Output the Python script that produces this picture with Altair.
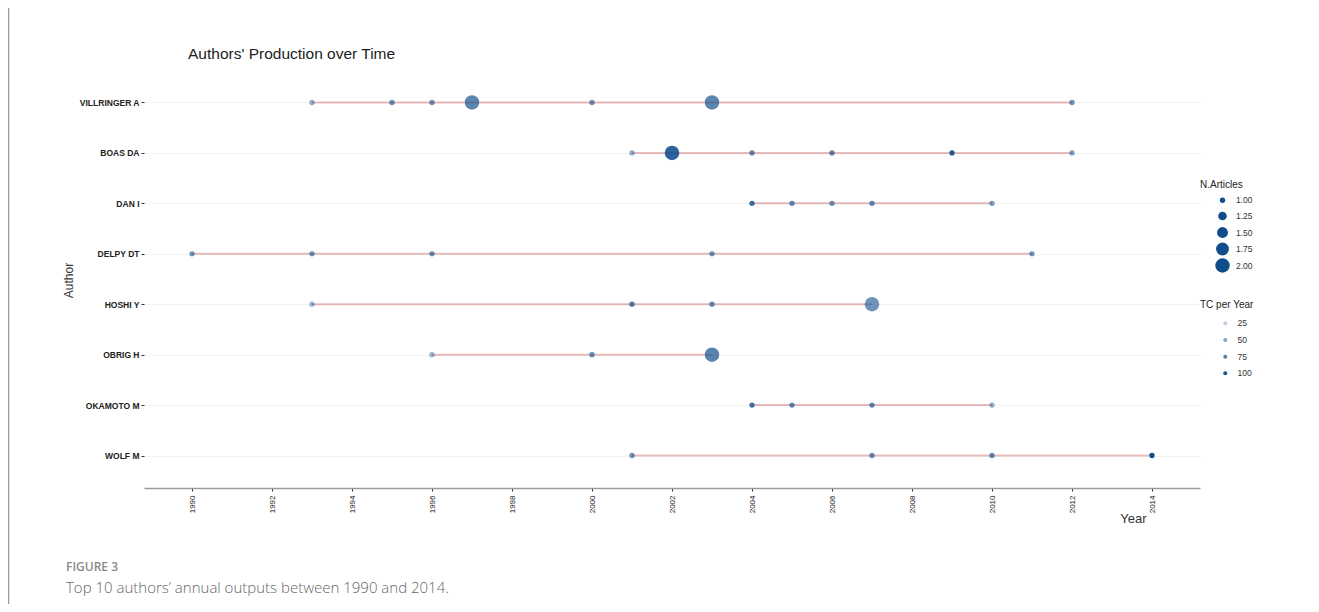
import altair as alt
import pandas as pd

authors = ["VILLRINGER A", "BOAS DA", "DAN I", "DELPY DT", "HOSHI Y", "OBRIG H", "OKAMOTO M", "WOLF M"]

villringer_years = [1993, 1995, 1996, 1997, 2000, 2003, 2012]
villringer_n = [1, 1, 1, 2, 1, 2, 1]
villringer_tc = [45, 65, 62, 70, 62, 70, 62]

boas_years = [2001, 2002, 2004, 2006, 2009, 2012]
boas_n = [1, 2, 1, 1, 1, 1]
boas_tc = [45, 92, 68, 70, 95, 55]

dan_years = [2004, 2005, 2006, 2007, 2010]
dan_n = [1, 1, 1, 1, 1]
dan_tc = [85, 68, 62, 68, 55]

delpy_years = [1990, 1993, 1996, 2003, 2011]
delpy_n = [1, 1, 1, 1, 1]
delpy_tc = [62, 62, 65, 62, 60]

hoshi_years = [1993, 2001, 2003, 2007]
hoshi_n = [1, 1, 1, 2]
hoshi_tc = [42, 75, 65, 60]

obrig_years = [1996, 2000, 2003]
obrig_n = [1, 1, 2]
obrig_tc = [42, 65, 72]

okamoto_years = [2004, 2005, 2007, 2010]
okamoto_n = [1, 1, 1, 1]
okamoto_tc = [82, 68, 68, 45]

wolf_years = [2001, 2007, 2010, 2014]
wolf_n = [1, 1, 1, 1]
wolf_tc = [62, 62, 65, 105]

year_ticks = list(range(1990, 2015, 2))
size_legend_values = [1.0, 1.25, 1.5, 1.75, 2.0]
tc_legend_values = [25, 50, 75, 100]

series = [
    ("VILLRINGER A", villringer_years, villringer_n, villringer_tc),
    ("BOAS DA", boas_years, boas_n, boas_tc),
    ("DAN I", dan_years, dan_n, dan_tc),
    ("DELPY DT", delpy_years, delpy_n, delpy_tc),
    ("HOSHI Y", hoshi_years, hoshi_n, hoshi_tc),
    ("OBRIG H", obrig_years, obrig_n, obrig_tc),
    ("OKAMOTO M", okamoto_years, okamoto_n, okamoto_tc),
    ("WOLF M", wolf_years, wolf_n, wolf_tc),
]
rows = []
for name, ys, ns, tcs in series:
    for y, n, t in zip(ys, ns, tcs):
        rows.append({"Author": name, "Year": y, "NArticles": n, "TCpY": t})
df = pd.DataFrame(rows)

FONT = "Liberation Sans"
W, H = 1056, 418

x_enc = alt.X(
    "Year:Q",
    scale=alt.Scale(domain=[1988.8, 2015.2], nice=False, zero=False),
    axis=alt.Axis(
        values=year_ticks, format="d", labelAngle=270, labelFontSize=8, labelColor="#222",
        labelFont=FONT, tickSize=3, tickColor="#333", domainColor="#9a9a9a", domainWidth=1.5,
        grid=False, title="Year", titleFont=FONT, titleFontSize=13, titleFontWeight="normal",
        titleColor="#333", titleX=989, titleY=30, titleAlign="center", titleBaseline="middle",
        labelPadding=4,
    ),
)
y_enc = alt.Y(
    "Author:N",
    sort=authors,
    scale=alt.Scale(type="point", padding=0.644),
    axis=alt.Axis(
        domain=False, tickSize=3, tickColor="#333", labelFontSize=8.5, labelFontWeight="bold",
        labelColor="#222", labelFont=FONT, grid=True, gridColor="#F2F2F2", gridWidth=1,
        title="Author", titleFont=FONT, titleFontSize=12, titleFontWeight="normal", titleColor="#333",
        titleAngle=270, titleX=-76, titleY=210, titleAlign="center", titleBaseline="middle",
        labelPadding=2,
    ),
)

lines = alt.Chart(df).mark_line(color="#B22222", opacity=0.3, strokeWidth=2).encode(
    x=x_enc, y=y_enc, detail="Author:N", order="Year:Q"
)

points = alt.Chart(df).mark_circle(color="#104E8B").encode(
    x=x_enc,
    y=y_enc,
    size=alt.Size(
        "NArticles:Q",
        scale=alt.Scale(domain=[1, 2], range=[28, 210], zero=False),
        legend=alt.Legend(
            title="N.Articles", values=size_legend_values, format=".2f", orient="none",
            legendX=1056, legendY=110, symbolFillColor="#104E8B", symbolStrokeWidth=0,
            symbolOpacity=1, titleFont=FONT, titleFontSize=10, titleFontWeight="normal",
            titleColor="#222", labelFont=FONT, labelFontSize=8.5, labelColor="#333",
            rowPadding=0.5, gridAlign="all", symbolOffset=15, labelOffset=6, padding=0,
            titlePadding=6,
        ),
    ),
    opacity=alt.Opacity(
        "TCpY:Q",
        scale=alt.Scale(domain=[5, 105], range=[0.1, 1]),
        legend=alt.Legend(
            title="TC per Year", type="symbol", values=tc_legend_values, orient="none",
            legendX=1056, legendY=230, symbolFillColor="#104E8B", symbolStrokeWidth=0,
            symbolSize=16, symbolType="circle", titleFont=FONT, titleFontSize=10,
            titleFontWeight="normal", titleColor="#222", labelFont=FONT, labelFontSize=8.5,
            labelColor="#333", rowPadding=7.7, symbolOffset=21, labelOffset=8, padding=0,
            titlePadding=9,
        ),
    ),
)

one = pd.DataFrame({"k": [0]})
title = alt.Chart(one).mark_text(
    text="Authors' Production over Time", align="left", baseline="middle", font=FONT,
    fontSize=15.5, color="#222",
).encode(x=alt.value(44), y=alt.value(-16.5))
fig_label = alt.Chart(one).mark_text(
    text="FIGURE 3", align="left", baseline="middle", font="Open Sans", fontSize=12,
    fontWeight=600, color="#8a8a8a",
).encode(x=alt.value(-78), y=alt.value(497))
caption = alt.Chart(one).mark_text(
    text="Top 10 authors\u2019 annual outputs between 1990 and 2014.", align="left",
    baseline="middle", font="Open Sans", fontSize=15, fontWeight=300, color="#666",
).encode(x=alt.value(-78), y=alt.value(518))
border = alt.Chart(one).mark_rule(color="#9a9a9a", strokeWidth=1.5).encode(
    x=alt.value(-135.5), y=alt.value(-62), y2=alt.value(H + 116)
)

chart = alt.layer(lines, points, title, fig_label, caption, border).properties(
    width=W,
    height=H,
    background="white",
    autosize=alt.AutoSizeParams(type="none"),
    padding={"left": 136, "top": 62, "right": 107, "bottom": 116},
).configure_view(strokeWidth=0, stroke="transparent")

chart.save("out.html", embed_options={"renderer": "svg", "actions": False})
